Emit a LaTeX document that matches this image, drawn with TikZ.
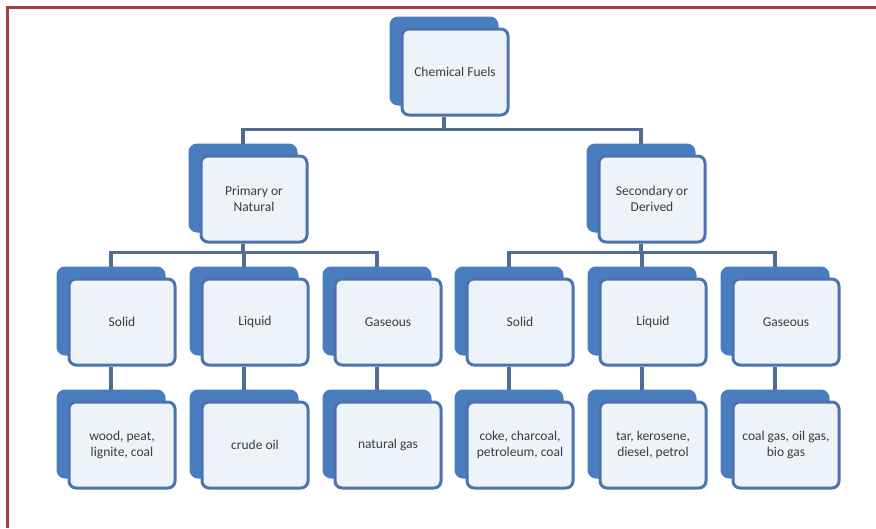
\documentclass[tikz,border=0pt]{standalone}
\usepackage{fontspec}
\setmainfont{Carlito}
\usetikzlibrary{shadows}
\definecolor{backblue}{HTML}{4A7CC0}
\definecolor{edgeblue}{HTML}{4D73AE}
\definecolor{paleblue}{HTML}{EEF3FA}
\definecolor{linkblue}{HTML}{506C94}
\definecolor{framered}{HTML}{A5403F}
\definecolor{labelgray}{HTML}{3C3C3C}
\begin{document}
\begin{tikzpicture}[x=1pt,y=-1pt,
fuelbox/.style={draw=edgeblue,fill=paleblue,line width=3pt,rounded corners=7pt,
  minimum width=106pt,minimum height=86pt,align=center,text=labelgray,
  font=\fontsize{13.5}{15.5}\selectfont,
  copy shadow={shadow xshift=-11pt,shadow yshift=11pt,fill=backblue,draw=backblue}},
link/.style={draw=linkblue,line width=3.5pt}]
\useasboundingbox (0,0) rectangle (876,528);
\draw[framered,line width=3pt] (876,7) -- (7,7) -- (7,528);
% top and second level
\draw (455,72) node[fuelbox] (fuels) {Chemical Fuels};
\draw (254,199) node[fuelbox] (prim) {Primary or\\Natural};
\draw (652,199) node[fuelbox] (sec) {Secondary or\\Derived};
% third level
\draw (122,322) node[fuelbox] (psol) {Solid};
\draw (255,322) node[fuelbox] (pliq) {Liquid};
\draw (388,322) node[fuelbox] (pgas) {Gaseous};
\draw (520,322) node[fuelbox] (ssol) {Solid};
\draw (653,322) node[fuelbox] (sliq) {Liquid};
\draw (786,322) node[fuelbox] (sgas) {Gaseous};
% examples
\draw (122,445) node[fuelbox] (psolx) {wood, peat,\\lignite, coal};
\draw (255,445) node[fuelbox] (pliqx) {crude oil};
\draw (388,445) node[fuelbox] (pgasx) {natural gas};
\draw (520,445) node[fuelbox] (ssolx) {coke, charcoal,\\petroleum, coal};
\draw (653,445) node[fuelbox] (sliqx) {tar, kerosene,\\diesel, petrol};
\draw (786,445) node[fuelbox] (sgasx) {coal gas, oil gas,\\bio gas};
% links
\draw[link] ([xshift=-11pt]fuels.south) -- ++(0,13) -| ([shift={(-11pt,11pt)}]prim.north);
\draw[link] ([xshift=-11pt]fuels.south) -- ++(0,13) -| ([shift={(-11pt,11pt)}]sec.north);
\foreach \kid in {psol,pliq,pgas}
  \draw[link] ([xshift=-11pt]prim.south) -- ++(0,9) -| ([shift={(-11pt,11pt)}]\kid.north);
\foreach \kid in {ssol,sliq,sgas}
  \draw[link] ([xshift=-11pt]sec.south) -- ++(0,9) -| ([shift={(-11pt,11pt)}]\kid.north);
\foreach \kid in {psol,pliq,pgas,ssol,sliq,sgas}
  \draw[link] ([xshift=-11pt]\kid.south) -- ([shift={(-11pt,11pt)}]\kid x.north);
\end{tikzpicture}
\end{document}
